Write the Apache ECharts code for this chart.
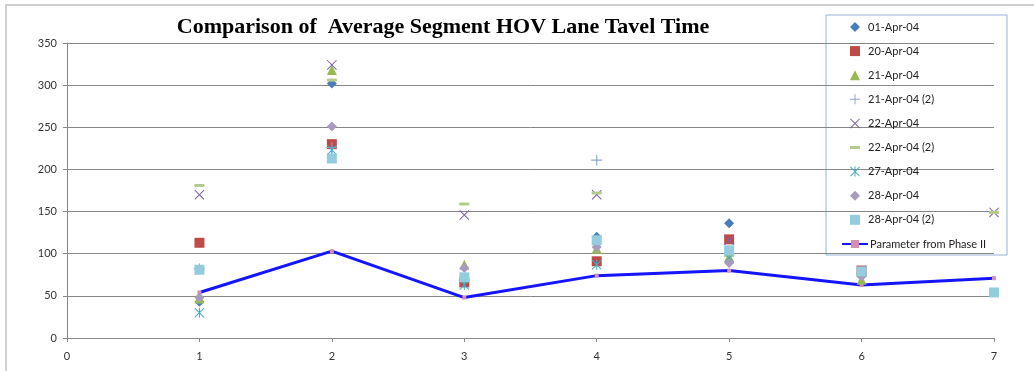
<!DOCTYPE html>
<html>
<head>
<meta charset="utf-8">
<script src="https://cdn.jsdelivr.net/npm/echarts@6/dist/echarts.min.js"></script>
<style>
  html, body { margin: 0; padding: 0; background: #fff; }
  #chart { width: 1034px; height: 371px; }
</style>
</head>
<body>
<div id="chart"></div>
<script>
// x positions (segment index)
const segments = [1, 2, 3, 4, 5, 6, 7]
const xTicks = [0, 1, 2, 3, 4, 5, 6, 7]
const yTicks = [0, 50, 100, 150, 200, 250, 300, 350]

// average travel time per day, null = no observation
const apr01 = [43, 302, 68, 120, 136, 76, null]
const apr20 = [113, 230, 66, 91, 117, 80, null]
const apr21 = [47, 318, 87, 106, 96, 69, null]
const apr21b = [82, 226, 70, 211, 100, 77, null]
const apr22 = [170, 324, 146, 170, 116, 80, 149]
const apr22b = [181, 306, 159, 172, 98, 74, 149]
const apr27 = [30, 223, 63, 87, 95, 78, null]
const apr28 = [48, 251, 83, 108, 89, 73, null]
const apr28b = [81, 213, 72, 116, 104, 79, 54]
const phaseII = [54, 103, 48, 74, 80, 63, 71]

const chart = echarts.init(document.getElementById("chart"))

const plusPath = "path://M4.5,0h1v10h-1z M0,4.5h10v1h-10z"
const crossPath = "path://M0,0.7L0.7,0L10,9.3L9.3,10z M9.3,0L10,0.7L0.7,10L0,9.3z"
const dashPath = "path://M0,0h10v3h-10z"
const starPath = "path://M0,0.7L0.7,0L10,9.3L9.3,10z M9.3,0L10,0.7L0.7,10L0,9.3z M4.5,0h1v10h-1z"

const pts = arr => segments.map((x, i) => [x, arr[i]]).filter(p => p[1] != null)

const scatter = (name, arr, color, symbol, size) => ({
  name,
  type: "scatter",
  data: pts(arr),
  symbol,
  symbolSize: size,
  itemStyle: { color, opacity: 1 },
  z: 3
})

const dayNames = [
  "01-Apr-04", "20-Apr-04", "21-Apr-04", "21-Apr-04 (2)", "22-Apr-04",
  "22-Apr-04 (2)", "27-Apr-04", "28-Apr-04", "28-Apr-04 (2)"
]
const lineName = "Parameter from Phase II"

const legendText = { fontFamily: "Lato", fontSize: 11, color: "#222", lineHeight: 14 }

const option = {
  backgroundColor: "#fff",
  animation: false,
  title: {
    text: "Comparison of  Average Segment HOV Lane Tavel Time",
    left: 438,
    textAlign: "center",
    top: 11,
    textStyle: {
      fontFamily: "Liberation Serif",
      fontWeight: "bold",
      fontSize: 22,
      color: "#000"
    }
  },
  legend: [
    {
      orient: "vertical",
      left: 850,
      top: 20,
      itemGap: 10.1,
      itemWidth: 10,
      itemHeight: 10,
      data: dayNames,
      textStyle: Object.assign({ padding: [0, 0, 0, 3] }, legendText),
      padding: 0
    },
    {
      orient: "vertical",
      left: 841,
      top: 237,
      itemWidth: 26,
      itemHeight: 10,
      data: [lineName],
      textStyle: Object.assign({ padding: [0, 0, 0, -3] }, legendText),
      padding: 0
    }
  ],
  graphic: [
    {
      type: "rect",
      shape: { x: 6, y: 5, width: 1060, height: 420 },
      style: { fill: "none", stroke: "#d0d0d0", lineWidth: 2 },
      silent: true
    },
    {
      type: "rect",
      shape: { x: 826, y: 15, width: 181, height: 240 },
      style: { fill: "none", stroke: "#95b3d7", lineWidth: 1 },
      silent: true
    }
  ],
  grid: { left: 67, right: 40, top: 43, bottom: 33 },
  xAxis: {
    type: "value",
    min: xTicks[0],
    max: xTicks[xTicks.length - 1],
    interval: 1,
    splitLine: { show: false },
    axisLine: { lineStyle: { color: "#868686" } },
    axisTick: { show: true, length: 4, lineStyle: { color: "#868686" } },
    axisLabel: { fontFamily: "Lato", fontSize: 11, color: "#333", margin: 13 }
  },
  yAxis: {
    type: "value",
    min: yTicks[0],
    max: yTicks[yTicks.length - 1],
    interval: 50,
    axisLine: { show: true, lineStyle: { color: "#868686" } },
    axisTick: { show: true, length: 4, lineStyle: { color: "#868686" } },
    splitLine: { lineStyle: { color: "#868686", width: 1 } },
    axisLabel: { fontFamily: "Lato", fontSize: 11, color: "#333", margin: 10 }
  },
  series: [
    scatter("01-Apr-04", apr01, "#4a7ebb", "diamond", 10),
    scatter("20-Apr-04", apr20, "#be4b48", "rect", 10),
    scatter("21-Apr-04", apr21, "#98b954", "triangle", 10),
    scatter("21-Apr-04 (2)", apr21b, "#8ea5cb", plusPath, 11),
    scatter("22-Apr-04", apr22, "#7d60a0", crossPath, 10),
    scatter("22-Apr-04 (2)", apr22b, "#b3cb8b", dashPath, [10, 3]),
    scatter("27-Apr-04", apr27, "#46aac5", starPath, 10),
    scatter("28-Apr-04", apr28, "#a99bbd", "diamond", 10),
    scatter("28-Apr-04 (2)", apr28b, "#93cddd", "rect", 10),
    {
      name: lineName,
      type: "line",
      data: pts(phaseII),
      symbol: "rect",
      symbolSize: 4,
      itemStyle: { color: "#d58fb2" },
      lineStyle: { color: "#1414ff", width: 3 },
      z: 2
    }
  ]
}

chart.setOption(option)
</script>
</body>
</html>
